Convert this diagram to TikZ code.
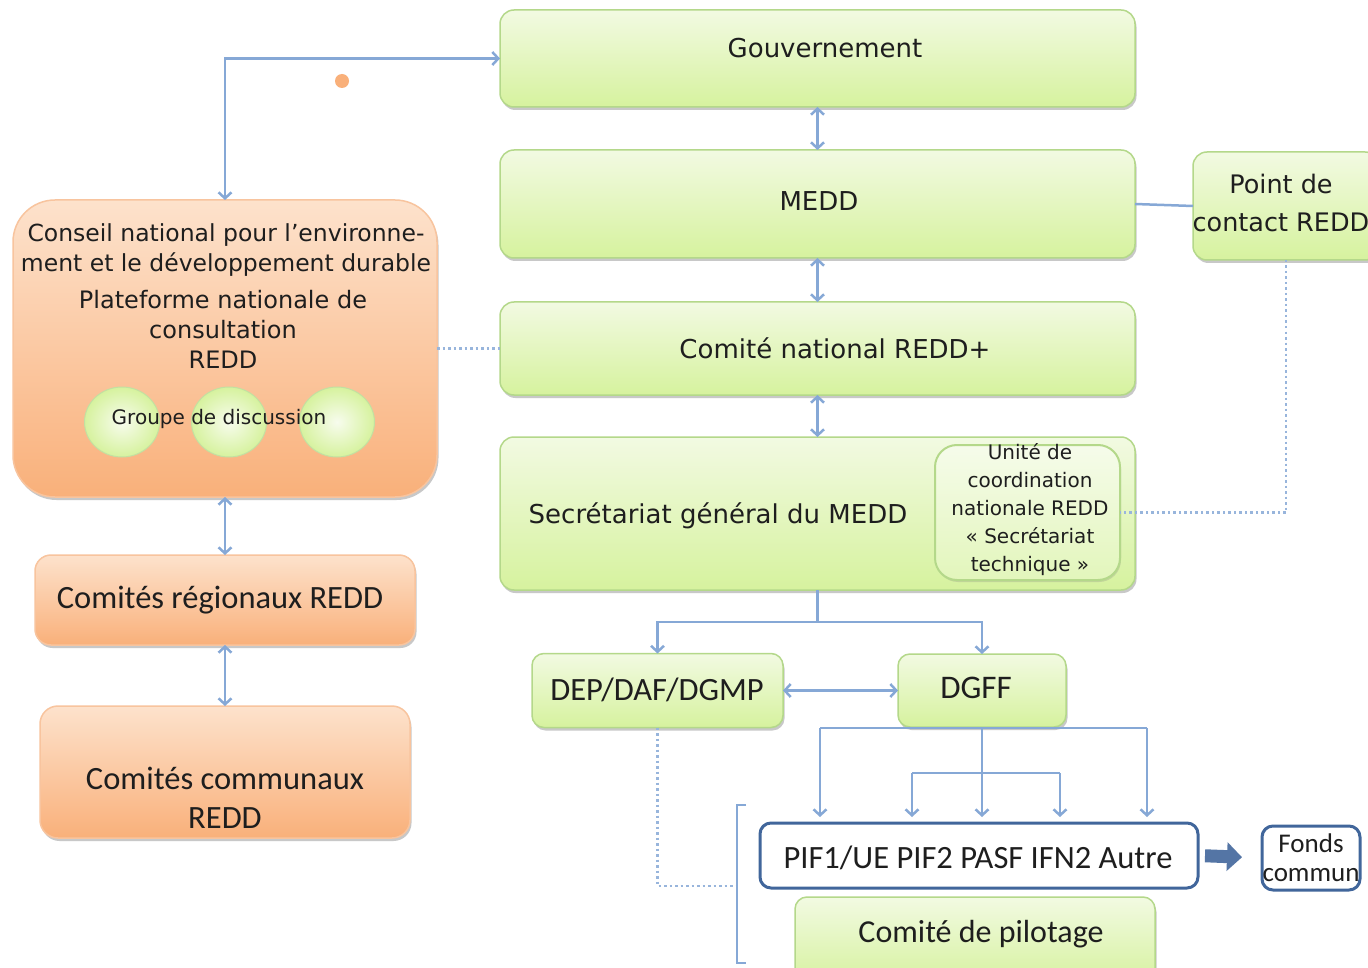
\documentclass[tikz,border=0pt]{standalone}
\usepackage{fontspec}
\setmainfont{DejaVu Sans}
\newfontfamily\calib{Carlito}
\usetikzlibrary{arrows.meta,shadows,calc,shapes.geometric}
\definecolor{gtop}{HTML}{F2FAE2}
\definecolor{gbot}{HTML}{D6F29E}
\definecolor{gbd}{HTML}{B4D88A}
\definecolor{otop}{HTML}{FDE2CC}
\definecolor{obot}{HTML}{F9B07A}
\definecolor{obd}{HTML}{F8C49E}
\definecolor{lb}{HTML}{86A8D6}
\definecolor{db}{HTML}{41669B}
\definecolor{txt}{HTML}{1E1E1E}
\begin{document}
\begin{tikzpicture}[x=1pt,y=-1pt,
  shad/.style={drop shadow={shadow xshift=1.5pt,shadow yshift=-3pt,opacity=0.3,fill=black!70}},
  gbox/.style={draw=gbd,line width=1.5pt,rounded corners=14pt,top color=gtop,bottom color=gbot,inner sep=0pt,outer sep=0pt,shad},
  obox/.style={draw=obd,line width=1.5pt,rounded corners=16pt,top color=otop,bottom color=obot,inner sep=0pt,outer sep=0pt,shad},
  wbox/.style={draw=db,line width=3pt,rounded corners=11pt,fill=white,inner sep=0pt,outer sep=0pt},
  gcirc/.style={ellipse,draw=gbd!80,line width=1pt,inner color=gtop!60!white,outer color=gbot,minimum width=75pt,minimum height=70pt,inner sep=0pt},
  tx/.style={text=txt,inner sep=0pt,align=center},
  conn/.style={draw=lb,line width=2.5pt},
  arr/.style={-{Straight Barb[length=6pt,width=13pt]}},
  biarr/.style={{Straight Barb[length=6pt,width=13pt]}-{Straight Barb[length=6pt,width=13pt]}},
  dotl/.style={draw=lb!85,line width=2.5pt,dash pattern=on 2.5pt off 3pt}
]
\useasboundingbox (0,0) rectangle (1368,968);
\clip (0,0) rectangle (1368,968);
\fill[white] (0,0) rectangle (1368,968);

% boxes (shapes)
\node[gbox,minimum width=635pt,minimum height=97pt] (gouv) at (817.5,58.5) {};
\node[gbox,minimum width=635pt,minimum height=108pt] (medd) at (817.5,204) {};
\node[gbox,minimum width=186pt,minimum height=108pt] (point) at (1286,206) {};
\node[gbox,minimum width=635pt,minimum height=93pt] (comnat) at (817.5,348.5) {};
\node[gbox,minimum width=635pt,minimum height=153pt] (sec) at (817.5,513.5) {};
\node[draw=gbd,line width=2pt,rounded corners=22pt,top color=gtop!70!white,bottom color=gbot!70!white,minimum width=185pt,minimum height=135pt,inner sep=0pt,outer sep=0pt,drop shadow={shadow xshift=1pt,shadow yshift=-2pt,opacity=0.25}] (unite) at (1027.5,512.5) {};
\node[obox,rounded corners=42pt,minimum width=424pt,minimum height=297pt] (conseil) at (225,348.5) {};
\node[obox,minimum width=380pt,minimum height=90pt] (reg) at (225,600) {};
\node[obox,rounded corners=18pt,minimum width=370pt,minimum height=132pt] (comm) at (225,772) {};
\node[gbox,rounded corners=12pt,minimum width=251pt,minimum height=74pt] (dep) at (657.5,690.5) {};
\node[wbox,minimum width=438pt,minimum height=65pt] (pif) at (979,855.5) {};
\node[wbox,minimum width=98pt,minimum height=64pt] (fonds) at (1311,858) {};
\node[gbox,rounded corners=12pt,minimum width=360pt,minimum height=88pt] (pilot) at (975,941) {};
\node[gbox,rounded corners=12pt,minimum width=168pt,minimum height=73pt] (dgff) at (982,690.5) {};

\node[gcirc] (c1) at (122,422) {};
\node[gcirc] (c2) at (229,422) {};
\node[gcirc] (c3) at (337,422) {};
\node[circle,fill=obot,minimum size=14pt,inner sep=0pt] (dot) at (342,81) {};

% connectors
\coordinate (bl) at (820,728);
\coordinate (br) at (1147,728);
\coordinate (cl) at (912,773);
\coordinate (cr) at (1060,773);
\draw[conn] (bl) -- (br);
\draw[conn,biarr] (gouv.west) -| (conseil.north);
\draw[conn,biarr] (gouv.south) -- (medd.north);
\draw[conn,biarr] (medd.south) -- (comnat.north);
\draw[conn,biarr] (comnat.south) -- (sec.north);
\draw[conn,biarr] (conseil.south) -- (reg.north);
\draw[conn,biarr] (reg.south) -- (comm.north);
\draw[dotl] (conseil.east) -- (comnat.west);
\draw[conn] (medd.east) -- (point.west);
\draw[dotl] (point.south) |- (unite.east);
\coordinate (split) at ($(sec.south)+(0,32)$);
\draw[conn] (sec.south) -- (split);
\draw[conn,arr] (split) -| (dep.north);
\draw[conn,arr] (split) -| (dgff.north);
\draw[conn,biarr] (dep.east) -- (dgff.west);
\draw[conn] (cl) -- (cr);
\draw[conn,arr,shorten >=6pt] (bl) -- (bl |- pif.north);
\draw[conn,arr,shorten >=6pt] (br) -- (br |- pif.north);
\draw[conn,arr,shorten >=6pt] (cl) -- (cl |- pif.north);
\draw[conn,arr,shorten >=6pt] (cr) -- (cr |- pif.north);
\draw[conn,arr,shorten >=6pt] (dgff.south) -- (dgff.south |- pif.north);
\coordinate (brk) at (737,886);
\draw[dotl] (dep.south) |- (brk);
\draw[conn] (746,805) -- (737,805) -- (737,963) -- (746,963);
\draw[line width=13pt,draw=db!90,-{Triangle[length=15pt,width=28pt]},shorten <=7pt,shorten >=20pt] (pif.east) -- (fonds.west);

% texts
\node[tx,font=\fontsize{26}{30}\selectfont] (tgouv) at (825,48) {Gouvernement};
\node[tx,font=\fontsize{26}{30}\selectfont] (tmedd) at (819,201) {MEDD};
\node[tx,font=\fontsize{25.5}{38}\selectfont] (tpoint) at (1281,203) {Point de\\contact REDD};
\node[tx,font=\fontsize{26}{30}\selectfont] (tcomnat) at (835,348) {Comité national REDD+};
\node[tx,font=\fontsize{26}{30}\selectfont] (tsec) at (718,516) {Secrétariat général du MEDD};
\node[tx,font=\fontsize{20}{28}\selectfont] (tunite) at (1030,510) {Unité de\\coordination\\nationale REDD\\« Secrétariat\\technique »};
\node[tx,font=\fontsize{23.5}{30}\selectfont] (tcons1) at (226,250) {Conseil national pour l’environne-\\ment et le développement durable};
\node[tx,font=\fontsize{24}{30}\selectfont] (tcons2) at (223,329) {Plateforme nationale de\\consultation\\REDD};
\node[tx,font=\fontsize{20}{24}\selectfont] (tgroupe) at (219,419) {Groupe de discussion};
\node[tx,font=\calib\fontsize{32.5}{36}\selectfont] (treg) at (220,600) {Comités régionaux REDD};
\node[tx,font=\calib\fontsize{32.5}{39}\selectfont] (tcomm) at (225,798) {Comités communaux\\REDD};
\node[tx,font=\calib\fontsize{32.5}{36}\selectfont] (tdep) at (657,690) {DEP/DAF/DGMP};
\node[tx,font=\calib\fontsize{33}{36}\selectfont] (tdgff) at (976,688) {DGFF};
\node[tx,font=\calib\fontsize{32.5}{36}\selectfont] (tpif) at (978,858) {PIF1/UE PIF2 PASF IFN2 Autre};
\node[tx,font=\calib\fontsize{27}{29}\selectfont] (tfonds) at (1311,858) {Fonds\\commun};
\node[tx,font=\calib\fontsize{32}{36}\selectfont] (tpilot) at (981,934) {Comité de pilotage};
\end{tikzpicture}
\end{document}
